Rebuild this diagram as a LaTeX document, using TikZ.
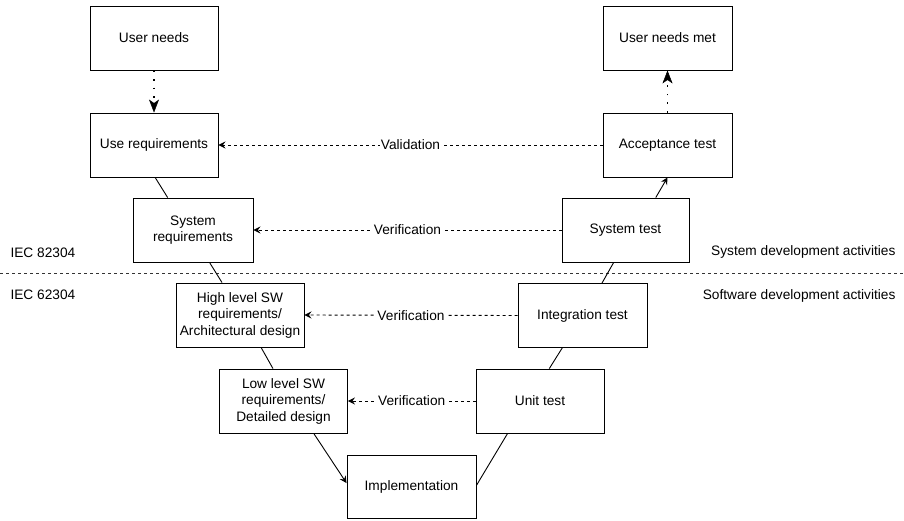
\documentclass[tikz,border=0pt]{standalone}
\usepackage{fontspec}
\setmainfont{Liberation Sans}
\usetikzlibrary{arrows.meta}
\begin{document}
\begin{tikzpicture}[x=1pt, y=-1pt, line cap=butt, line join=miter,
  every node/.style={font=\fontsize{13.7}{16.5}\selectfont},
  box/.style={draw, line width=0.9pt, minimum width=128pt, minimum height=64pt,
    inner sep=0pt, align=center},
  link/.style={line width=0.9pt},
  verif/.style={line width=0.9pt, dash pattern=on 3pt off 3pt,
    -{Stealth[length=7pt, width=7pt, inset=2.5pt]}},
  dots/.style={line width=1.6pt, dash pattern=on 1.6pt off 7pt,
    -{Stealth[length=13pt, width=10pt, inset=3.5pt, line width=0.5pt]}},
  tag/.style={fill=white, inner sep=1pt}]

\useasboundingbox (0,0) rectangle (904,521);

% separazione tra i due livelli
\draw[line width=0.9pt, black!80, dash pattern=on 3pt off 3pt] (0,273) -- (904,273);
\node[anchor=west] (iecsys) at (7,253) {IEC 82304};
\node[anchor=west] (iecsw) at (7,295) {IEC 62304};
\node[anchor=east] (sysact) at (899,252) {System development activities};
\node[anchor=east] (swact) at (899,296) {Software development activities};

% ramo sinistro
\node[box] (userneeds) at (154,38) {User needs};
\node[box] (usereq) at (154,145) {Use requirements};
\node[box, minimum width=120pt] (sysreq) at (193,230) {System\\requirements};
\node[box] (highlvl) at (240,315) {High level SW\\requirements/\\Architectural design};
\node[box] (lowlvl) at (283.5,401) {Low level SW\\requirements/\\Detailed design};

% fondo
\node[box, minimum width=129pt, minimum height=63pt] (impl) at (411.5,486.5) {Implementation};

% ramo destro
\node[box] (unit) at (540,401) {Unit test};
\node[box, minimum width=129pt] (integ) at (582.5,315.5) {Integration test};
\node[box, minimum width=127pt] (systest) at (625.5,230) {System test};
\node[box, minimum width=129pt] (accept) at (667.5,145) {Acceptance test};
\node[box, minimum width=129pt] (needsmet) at (667.5,38) {User needs met};

% frecce a puntini
\draw[dots] (userneeds.south) -- (usereq.north);
\draw[dots] (accept.north) -- (needsmet.south);

% linee della V
\draw[link] (usereq.272) -- (sysreq.128);
\draw[link] (sysreq.297) -- (highlvl.119);
\draw[link] (highlvl.303) -- (lowlvl.108);
\draw[link, -{Stealth[length=7pt, width=7pt, inset=2.5pt]}] (lowlvl.313) -- (impl.177);
\draw[link] (impl.1) -- (unit.225);
\draw[link] (unit.74) -- (integ.238);
\draw[link] (integ.59) -- (systest.250);
\draw[link, -{Stealth[length=7pt, width=7pt, inset=2.5pt]}] (systest.47) -- (accept.south);

% validazione e verifiche
\draw[verif] (accept.west) -- node[tag] {Validation} (usereq.east);
\draw[verif] (systest.west) -- node[tag] {Verification} (sysreq.east);
\draw[verif] (integ.west) -- node[tag] {Verification} (highlvl.east);
\draw[verif] (unit.west) -- node[tag] {Verification} (lowlvl.east);

\end{tikzpicture}
\end{document}
